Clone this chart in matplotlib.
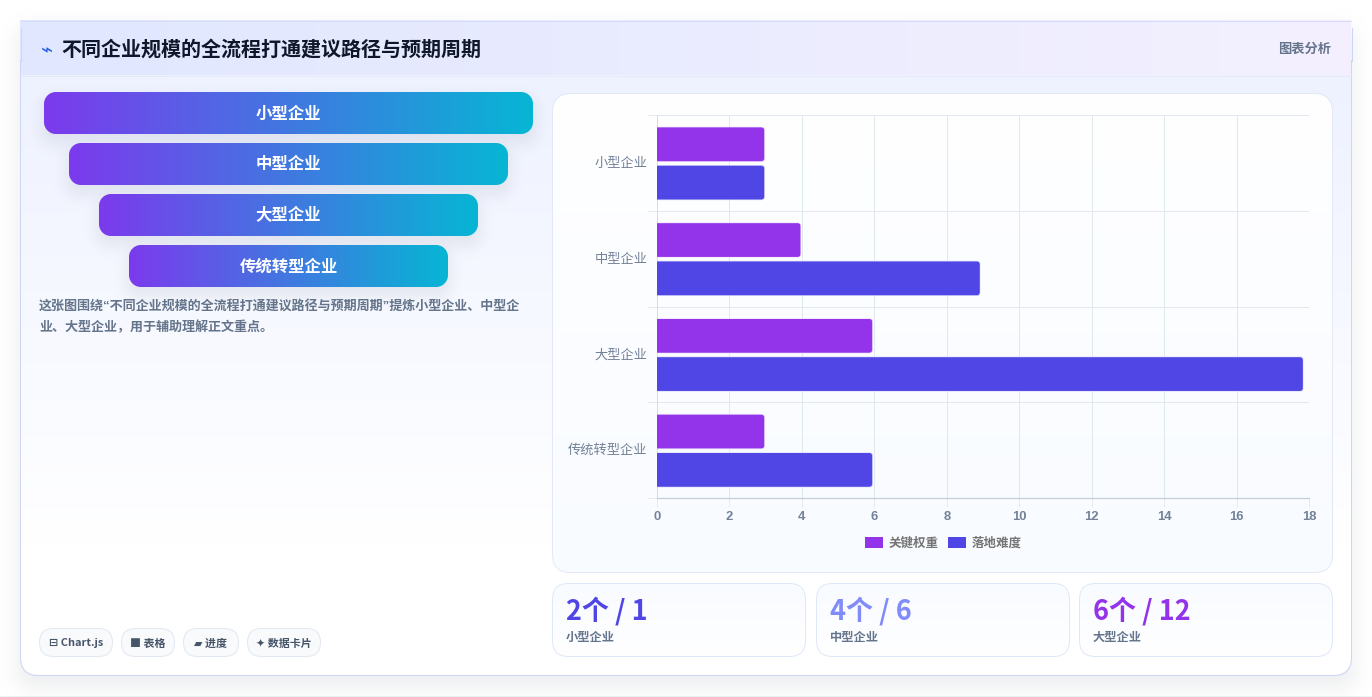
import numpy as np
import matplotlib
matplotlib.use("Agg")
import matplotlib.pyplot as plt
from matplotlib.patches import FancyBboxPatch
from matplotlib.colors import to_rgb
from matplotlib.transforms import IdentityTransform

# ---------- data ----------
categories = ["小型企业", "中型企业", "大型企业", "传统转型企业"]
key_weight = [2.97, 3.97, 5.95, 2.97]
difficulty = [2.97, 8.92, 17.84, 5.95]
series_names = ["关键权重", "落地难度"]
x_ticks = [0, 2, 4, 6, 8, 10, 12, 14, 16, 18]
title = "不同企业规模的全流程打通建议路径与预期周期"
header_right = "图表分析"
desc_lines = ["这张图围绕“不同企业规模的全流程打通建议路径与预期周期”提炼小型企业、中型企",
              "业、大型企业，用于辅助理解正文重点。"]
stat_values = ["2个 / 1", "4个 / 6", "6个 / 12"]
stat_labels = ["小型企业", "中型企业", "大型企业"]
tags = ["⊟ Chart.js", "■ 表格", "▰ 进度", "✦ 数据卡片"]

W, H = 1372, 697
SANS = ["Liberation Sans", "Noto Sans CJK SC", "DejaVu Sans"]
CJK = ["Noto Sans CJK SC", "DejaVu Sans"]
def pt(px):
    return px * 0.72

# ---------- raster helpers for shadows and gradients ----------
yy, xx = np.mgrid[0:H, 0:W] + 0.5
def sdf(x0, y0, x1, y1, r):
    cx, cy = (x0 + x1) / 2, (y0 + y1) / 2
    qx = np.abs(xx - cx) - (x1 - x0) / 2 + r
    qy = np.abs(yy - cy) - (y1 - y0) / 2 + r
    return np.hypot(np.maximum(qx, 0), np.maximum(qy, 0)) + np.minimum(np.maximum(qx, qy), 0) - r
def smooth(e0, e1, v):
    t = np.clip((v - e0) / (e1 - e0), 0, 1)
    return t * t * (3 - 2 * t)
def over(img, col, a):
    img[..., :3] = img[..., :3] * (1 - a[..., None]) + np.array(to_rgb(col)) * a[..., None]
def shadow(img, box, r, dy, blur, col, alpha):
    d = sdf(box[0], box[1] + dy, box[2], box[3] + dy, r)
    over(img, col, alpha * (1 - smooth(-blur, blur, d)))
def lerp(c0, c1, t):
    c0, c1 = np.array(to_rgb(c0)), np.array(to_rgb(c1))
    return c0 + (c1 - c0) * np.clip(t, 0, 1)[..., None]

img = np.ones((H, W, 3))
img[696:, :] = to_rgb("#eef1f6")
CARD = (20.5, 20.5, 1351.5, 675.5)
shadow(img, CARD, 18, 10, 24, "#1e293b", 0.09)

# card body
a = np.clip(0.5 - sdf(*CARD, 18), 0, 1)
body = lerp("#eef2ff", "#ffffff", (yy - 75) / 470)
img = img * (1 - a[..., None]) + body * a[..., None]
# square-cornered header
hmask = ((yy >= 20) & (yy < 75) & (xx >= 20.5) & (xx < 1351)).astype(float)
head = lerp("#e0e7ff", "#f4f0fe", (xx - 20) / 1331)
img = img * (1 - hmask[..., None]) + head * hmask[..., None]

# funnel
funnel_boxes = [(44, 92, 533, 134), (69, 143, 508, 185), (99, 194, 478, 236), (129, 245, 448, 287)]
for b in funnel_boxes:
    shadow(img, b, 12, 8, 18, "#334155", 0.11)
for b in funnel_boxes:
    a = np.clip(0.5 - sdf(*b, 12), 0, 1)
    g = lerp("#7c3aed", "#06b6d4", (xx - b[0]) / (b[2] - b[0]))
    img = img * (1 - a[..., None]) + g * a[..., None]

# chart panel and stat cards fill
chart_panel = (552.5, 93.5, 1332.5, 572.5)
a = np.clip(0.5 - sdf(*chart_panel, 18), 0, 1)
g = lerp("#ffffff", "#f8fbff", (yy - 93) / 480)
img = img * (1 - a[..., None]) + g * a[..., None]
stat_boxes = [(552.5, 583.5, 805.5, 656.5), (816.5, 583.5, 1069.5, 656.5), (1079.5, 583.5, 1332.5, 656.5)]
for b in stat_boxes:
    a = np.clip(0.5 - sdf(*b, 16), 0, 1)
    g = lerp("#f8fbff", "#ffffff", (yy - b[1]) / (b[3] - b[1]))
    img = img * (1 - a[..., None]) + g * a[..., None]

# ---------- figure ----------
fig = plt.figure(figsize=(W / 100, H / 100), dpi=100, facecolor="white")
bg = fig.add_axes([0, 0, 1, 1], zorder=0)
bg.axis("off")
bg.imshow(np.clip(img, 0, 1), extent=(0, W, H, 0), aspect="auto", interpolation="nearest", zorder=0)
bg.set_xlim(0, W); bg.set_ylim(H, 0)

def rbox(b, r, fc, ec, lw=1.0, z=1):
    p = FancyBboxPatch((b[0], b[1]), b[2] - b[0], b[3] - b[1],
                       boxstyle=f"round,pad=0,rounding_size={r}",
                       fc=fc, ec=ec, lw=lw * 0.72, zorder=z)
    bg.add_patch(p)
    return p

# card outline: rounded only at the bottom, header keeps square corners
outline = rbox(CARD, 18, "none", "#cdd6f6", 1.0)
outline.set_clip_path(bg.add_patch(plt.Rectangle((0, 60), W, H - 60, fc="none", ec="none")))
bg.plot([21, 1351], [20.5, 20.5], color="#d5dcf8", lw=0.72, zorder=2)
bg.plot([21, 1351], [75.5, 75.5], color="#e6eaf8", lw=0.72, zorder=2)
bg.plot([20.5, 20.5], [28, 61], color="#cdd6f6", lw=0.72, zorder=2)
bg.plot([1351.5, 1351.5], [28, 61], color="#cdd6f6", lw=0.72, zorder=2)
rbox(chart_panel, 18, "none", "#e2e8f5")
for b in stat_boxes:
    rbox(b, 16, "none", "#dfe8f8")

# header
bg.text(47, 50.5, "⌁", family=["DejaVu Sans"], fontsize=pt(20), color="#2563eb", ha="center", va="center", zorder=3)
bg.text(61.5, 49.5, title, family=CJK, fontsize=pt(20.05), weight="bold", color="#0f172a", va="center", zorder=3)
bg.text(1331, 48.5, header_right, family=CJK, fontsize=pt(13.2), weight="bold", color="#64748b", ha="right", va="center", zorder=3)

# funnel labels
for b, c in zip(funnel_boxes, categories):
    bg.text((b[0] + b[2]) / 2, (b[1] + b[3]) / 2 + 0.5, c, family=CJK, fontsize=pt(16.4), weight="bold",
            color="white", ha="center", va="center", zorder=3)

# description
for yp, line in zip([307, 327], desc_lines):
    bg.text(39, yp + 0.5, line, family=SANS, fontsize=pt(13.05), weight="bold", color="#64748b", va="center", zorder=3)

# tags
tag_boxes = [(39.5, 628.5, 112.5, 656.5), (121.5, 628.5, 174.5, 656.5),
             (183.5, 628.5, 238.5, 656.5), (247.5, 628.5, 320.5, 656.5)]
for b, t in zip(tag_boxes, tags):
    rbox(b, 14, "#f8fafc", "#e2e8f0")
    bg.text((b[0] + b[2]) / 2, 643.5, t, family=CJK,
            fontsize=pt(11), weight="bold", color="#475569", ha="center", va="center", zorder=3)

# stats
stat_colors = ["#4f46e5", "#818cf8", "#9333ea"]
for b, v, l, c in zip(stat_boxes, stat_values, stat_labels, stat_colors):
    bg.text(b[0] + 13.5, 611.5, v, family=CJK, fontsize=pt(27), weight="bold", color=c, va="center", zorder=3)
    bg.text(b[0] + 13, 637, l, family=CJK, fontsize=pt(12.2), weight="bold", color="#64748b", va="center", zorder=3)

# ---------- chart ----------
AX = (657, 115, 1309, 498)
ax = fig.add_axes([AX[0] / W, 1 - AX[3] / H, (AX[2] - AX[0]) / W, (AX[3] - AX[1]) / H], zorder=2)
ax.patch.set_alpha(0)
ypos = np.arange(len(categories))
bar_h = 0.36
off = 0.2
nudge = 0.006
colors = ["#9333ea", "#4f46e5"]
edges = ["#eadcfb", "#d6d8fa"]
ax.set_xlim(0, 18)
ax.set_ylim(3.5, -0.5)
series = [key_weight, difficulty]
for i, (vals, col, ec, name) in enumerate(zip(series, colors, edges, series_names)):
    bars = ax.barh(ypos + (i * 2 - 1) * off + nudge, vals, height=bar_h, color=col, label=name, zorder=3)
    for bar in bars:
        p0 = ax.transData.transform((0, bar.get_y()))
        p1 = ax.transData.transform((bar.get_width(), bar.get_y() + bar.get_height()))
        x0, y0, x1, y1 = p0[0] - 8, min(p0[1], p1[1]), p1[0], max(p0[1], p1[1])
        shape = FancyBboxPatch((x0, y0), x1 - x0, y1 - y0, boxstyle="round,pad=0,rounding_size=3.5",
                               transform=IdentityTransform(), fc="none", ec="none")
        bar.set_clip_path(shape)
        rim = FancyBboxPatch((x0, y0), x1 - x0, y1 - y0, boxstyle="round,pad=0,rounding_size=3.5",
                             transform=IdentityTransform(), fc="none", ec=ec, lw=0.6, alpha=0.7, zorder=4)
        rim.set_clip_box(ax.bbox)
        ax.add_patch(rim)

ax.set_xticks(x_ticks)
ax.set_yticks(ypos - 0.01)
ax.set_yticklabels(categories, family=CJK, fontsize=pt(13.2), color="#738197")
ax.set_yticks(np.arange(-0.5, 4, 1), minor=True)
ax.tick_params(axis="y", which="major", length=0, pad=7)
ax.tick_params(axis="y", which="minor", length=6.5, color="#e2e8f0", width=0.72)
ax.tick_params(axis="x", which="major", length=6.5, color="#e3ebee", width=0.72, pad=2.5)
for lab in ax.get_xticklabels():
    lab.set_family(SANS); lab.set_fontsize(pt(13)); lab.set_weight("bold"); lab.set_color("#738197")
ax.grid(True, axis="x", which="major", color="#dfe9ec", lw=0.72, zorder=1)
ax.grid(True, axis="y", which="minor", color="#e2e8f0", lw=0.72, zorder=1)
ax.grid(False, axis="y", which="major")
ax.set_axisbelow(True)
for s in ["top", "right"]:
    ax.spines[s].set_visible(False)
ax.spines["left"].set_color("#d5dce6"); ax.spines["left"].set_linewidth(0.72)
ax.spines["bottom"].set_color("#c3ccd9"); ax.spines["bottom"].set_linewidth(0.9)

leg = ax.legend(loc="center", bbox_to_anchor=(943 / W, 1 - 543 / H), bbox_transform=fig.transFigure,
                ncol=2, frameon=False, handlelength=1.5, handleheight=1.0,
                handletextpad=0.42, columnspacing=0.72, borderpad=0, borderaxespad=0,
                prop={"family": CJK, "size": pt(12.5), "weight": "bold"})
for t in leg.get_texts():
    t.set_color("#757575")

fig.savefig("out.png", dpi=100)
